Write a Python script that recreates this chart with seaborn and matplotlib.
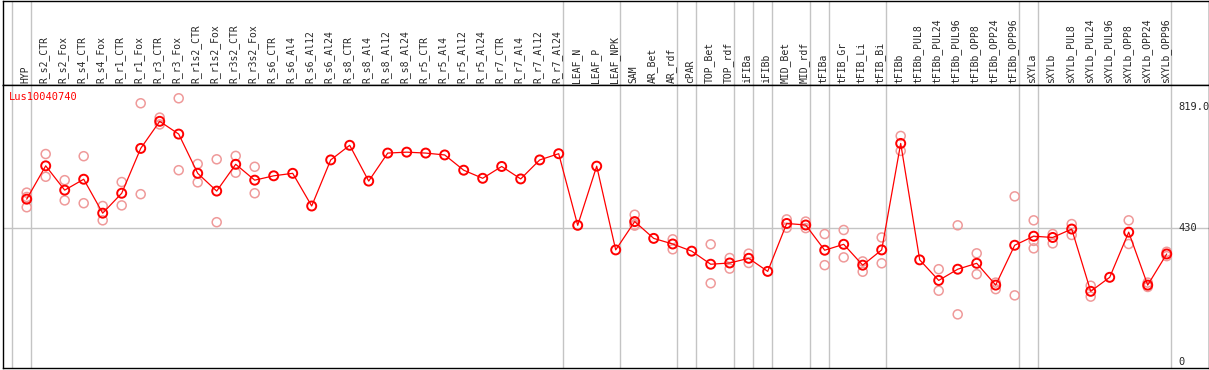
import pandas as pd
import seaborn as sns
import matplotlib
matplotlib.use('Agg')
import matplotlib.pyplot as plt

samples = ['HYP', 'R_s2_CTR', 'R_s2_Fox', 'R_s4_CTR', 'R_s4_Fox', 'R_r1_CTR', 'R_r1_Fox',
           'R_r3_CTR', 'R_r3_Fox', 'R_r1s2_CTR', 'R_r1s2_Fox', 'R_r3s2_CTR', 'R_r3s2_Fox',
           'R_s6_CTR', 'R_s6_Al4', 'R_s6_Al12', 'R_s6_Al24', 'R_s8_CTR', 'R_s8_Al4', 'R_s8_Al12',
           'R_s8_Al24', 'R_r5_CTR', 'R_r5_Al4', 'R_r5_Al12', 'R_r5_Al24', 'R_r7_CTR', 'R_r7_Al4',
           'R_r7_Al12', 'R_r7_Al24', 'LEAF_N', 'LEAF_P', 'LEAF_NPK', 'SAM', 'AR_Bet', 'AR_rdf',
           'cPAR', 'TOP_Bet', 'TOP_rdf', 'iFIBa', 'iFIBb', 'MID_Bet', 'MID_rdf', 'tFIBa',
           'tFIB_Gr', 'tFIB_Li', 'tFIB_Bi', 'tFIBb', 'tFIBb_PUL8', 'tFIBb_PUL24', 'tFIBb_PUL96',
           'tFIBb_OPP8', 'tFIBb_OPP24', 'tFIBb_OPP96', 'sXYLa', 'sXYLb', 'sXYLb_PUL8',
           'sXYLb_PUL24', 'sXYLb_PUL96', 'sXYLb_OPP8', 'sXYLb_OPP24', 'sXYLb_OPP96']

# mean expression per sample
means = [523, 630, 552, 587, 478, 542, 686, 773, 732, 606, 549, 635, 584,
         598, 606, 501, 649, 696, 581, 671, 674, 671, 665, 616, 590, 628, 588, 649, 669,
         439, 629, 360, 451, 397, 379, 356, 314, 318, 333, 291, 445, 440, 359,
         378, 311, 360, 702, 328, 262, 298, 317, 247, 375, 404, 400, 427,
         227, 272, 417, 247, 347]

# individual replicates (empty where hidden behind the mean)
replicates = [[544, 530, 497], [668, 595], [584, 519], [661, 510], [501, 455], [578, 503],
              [831, 539], [785, 763], [847, 616], [636, 577], [651, 449], [662, 608],
              [627, 542],
              [], [], [], [], [], [], [], [], [], [], [], [], [], [], [], [],
              [], [], [], [473, 438, 441], [], [394, 362], [], [378, 253], [334, 300],
              [348, 318], [], [458, 431], [451, 430], [411, 311], [424, 336], [323, 290],
              [400, 317], [726, 678], [], [298, 229], [439, 153], [349, 282], [255, 234],
              [532, 214], [455, 389, 365], [411, 381], [443, 408], [245, 210], [],
              [455, 379], [255, 241], [354, 340]]

separators = [-1, 0, 28, 31, 34, 35, 37, 38, 39, 41, 42, 45, 52, 53, 60]
right_ticks = [819, 430, 0]
right_labels = ['819.0', '430', '0']
gene = 'Lus10040740'

mean_df = pd.DataFrame({'pos': range(len(samples)), 'value': means})
rep_df = pd.DataFrame([(i, v) for i, vals in enumerate(replicates) for v in vals],
                      columns=['pos', 'value'])

sns.set_style('white')
plt.rcParams['font.family'] = ['DejaVu Sans Mono']

W, H = 1209, 370
fig = plt.figure(figsize=(W / 100, H / 100), dpi=100)
x_left, x_right = 2.5, 1208.5
head_bot = 85
ax_h = fig.add_axes([x_left / W, (H - head_bot) / H, (x_right - x_left) / W, (head_bot - 0.5) / H])
ax = fig.add_axes([x_left / W, 1.7 / H, (x_right - x_left) / W, (head_bot - 1.7) / H * 0 + (H - head_bot - 1.7) / H])

x0, dx = 26.7, 19.0
xlim = ((x_left - x0) / dx, (x_right - x0) / dx)
ypx0, yscale = 362.0, 255.0 / 819.0
ylim = ((ypx0 - 368.3) / yscale, (ypx0 - head_bot) / yscale)

grey = '#c4c4c4'
for a in (ax, ax_h):
    a.set_xlim(*xlim)
    for s in separators:
        a.axvline(s + 0.21, color=grey, lw=1.0, zorder=0)
    a.set_xticks([])
    a.set_yticks([])
    for sp in a.spines.values():
        sp.set_color('black')
        sp.set_linewidth(1.0)

ax_h.set_ylim(0, 1)
for i, name in enumerate(samples):
    ax_h.text(i - 0.08, 0.02, name, rotation=90, ha='center', va='bottom', fontsize=7)

ax.set_ylim(*ylim)
ax.axhline(430, color=grey, lw=1.0, zorder=0)

sns.scatterplot(data=rep_df, x='pos', y='value', ax=ax, marker='o', s=42,
                facecolor='none', edgecolor='#ef9a9a', linewidth=1.1, zorder=2)
sns.lineplot(data=mean_df, x='pos', y='value', ax=ax, color='red', lw=0.9, zorder=3)
sns.scatterplot(data=mean_df, x='pos', y='value', ax=ax, marker='o', s=42,
                facecolor='none', edgecolor='red', linewidth=1.4, zorder=4)
ax.set_xlabel('')
ax.set_ylabel('')
ax.set_xlim(*xlim)

ax.text((9 - x0) / dx, (ypx0 - 96.7) / yscale, gene, color='red', fontsize=7.5,
        ha='left', va='center')
for t, lab in zip(right_ticks, right_labels):
    ax.text((1178 - x0) / dx, t, lab, fontsize=7.5, ha='left', va='center')

fig.savefig('out.png', dpi=100)
